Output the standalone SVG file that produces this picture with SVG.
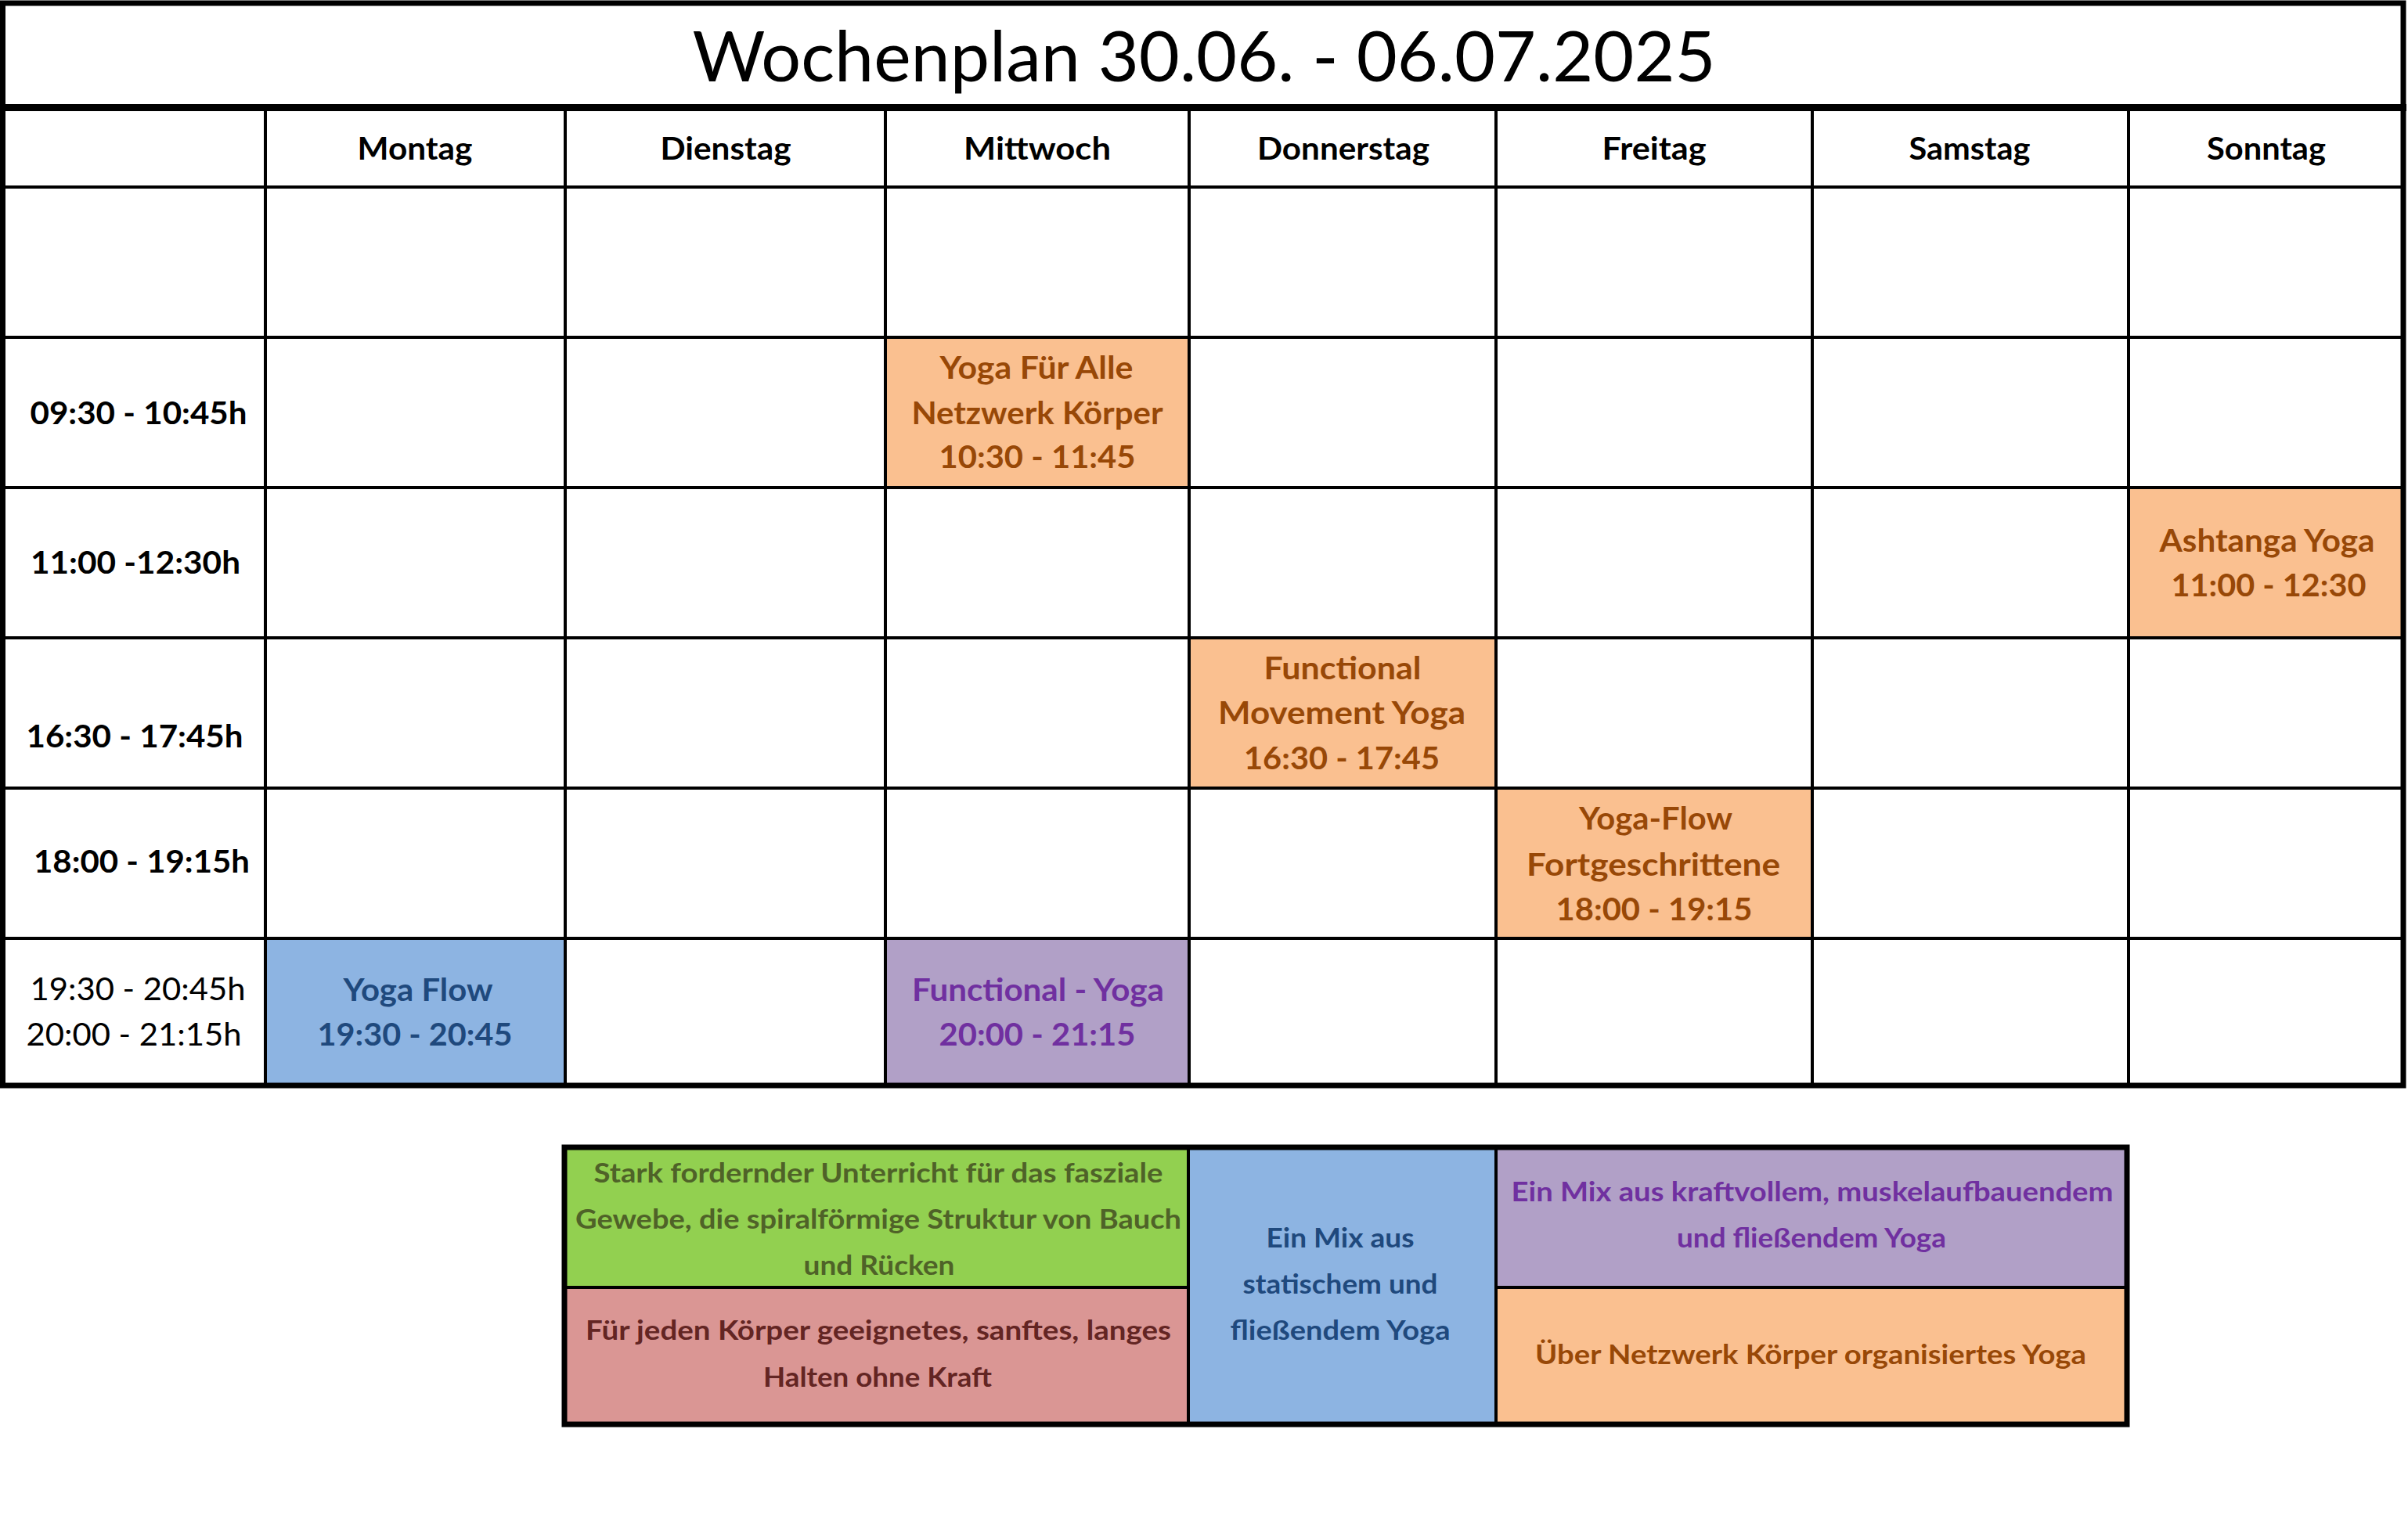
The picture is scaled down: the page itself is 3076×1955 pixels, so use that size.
<svg xmlns="http://www.w3.org/2000/svg" width="3076" height="1955" viewBox="0 0 3076 1955">
<style>
text{font-family:Lato,"Liberation Sans",sans-serif;font-weight:700;font-size:41px;text-anchor:middle;fill:#000}
.ti{font-weight:400;font-size:89px}
.rg{font-weight:400}
.lg{font-size:34px}
.g{stroke:#000;stroke-width:4;fill:none}
.gt{stroke:#000;stroke-width:8;fill:none}
.fo{fill:#FAC090}.fb{fill:#8DB4E2}.fp{fill:#B1A0C7}.fg{fill:#92D050}.fr{fill:#DA9694}
.co{fill:#984807}.cb{fill:#1F497D}.cp{fill:#7030A0}.cg{fill:#4F6228}.cr{fill:#632523}
</style>
<rect x="0" y="0" width="3076" height="1955" fill="#fff"/>

<g id="title">
<text class="ti" x="1538" y="104" textLength="1307" lengthAdjust="spacingAndGlyphs">Wochenplan 30.06. - 06.07.2025</text>
</g>

<g id="events">
<g id="ev-mittwoch-0930">
<rect class="fo" x="1131" y="431" width="388" height="192"/>
<text class="co" x="1324" y="484" textLength="247" lengthAdjust="spacingAndGlyphs">Yoga Für Alle</text>
<text class="co" x="1325" y="542" textLength="321" lengthAdjust="spacingAndGlyphs">Netzwerk Körper</text>
<text class="co" x="1325" y="598" textLength="251" lengthAdjust="spacingAndGlyphs">10:30 - 11:45</text>
</g>
<g id="ev-sonntag-1100">
<rect class="fo" x="2719" y="623" width="351" height="192"/>
<text class="co" x="2896" y="705" textLength="275" lengthAdjust="spacingAndGlyphs">Ashtanga Yoga</text>
<text class="co" x="2898" y="762" textLength="249" lengthAdjust="spacingAndGlyphs">11:00 - 12:30</text>
</g>
<g id="ev-donnerstag-1630">
<rect class="fo" x="1519" y="815" width="392" height="192"/>
<text class="co" x="1715" y="868" textLength="201" lengthAdjust="spacingAndGlyphs">Functional</text>
<text class="co" x="1714" y="925" textLength="316" lengthAdjust="spacingAndGlyphs">Movement Yoga</text>
<text class="co" x="1714" y="983" textLength="250" lengthAdjust="spacingAndGlyphs">16:30 - 17:45</text>
</g>
<g id="ev-freitag-1800">
<rect class="fo" x="1911" y="1007" width="404" height="192"/>
<text class="co" x="2115" y="1060" textLength="196" lengthAdjust="spacingAndGlyphs">Yoga-Flow</text>
<text class="co" x="2112" y="1119" textLength="324" lengthAdjust="spacingAndGlyphs">Fortgeschrittene</text>
<text class="co" x="2113" y="1176" textLength="251" lengthAdjust="spacingAndGlyphs">18:00 - 19:15</text>
</g>
<g id="ev-montag-1930">
<rect class="fb" x="339" y="1199" width="383" height="188"/>
<text class="cb" x="534" y="1279" textLength="191" lengthAdjust="spacingAndGlyphs">Yoga Flow</text>
<text class="cb" x="530" y="1336" textLength="249" lengthAdjust="spacingAndGlyphs">19:30 - 20:45</text>
</g>
<g id="ev-mittwoch-2000">
<rect class="fp" x="1131" y="1199" width="388" height="188"/>
<text class="cp" x="1326" y="1279" textLength="322" lengthAdjust="spacingAndGlyphs">Functional - Yoga</text>
<text class="cp" x="1325" y="1336" textLength="251" lengthAdjust="spacingAndGlyphs">20:00 - 21:15</text>
</g>
</g>

<g id="grid">
<line class="g" x1="339" y1="137" x2="339" y2="1387"/>
<line class="g" x1="722" y1="137" x2="722" y2="1387"/>
<line class="g" x1="1131" y1="137" x2="1131" y2="1387"/>
<line class="g" x1="1519" y1="137" x2="1519" y2="1387"/>
<line class="g" x1="1911" y1="137" x2="1911" y2="1387"/>
<line class="g" x1="2315" y1="137" x2="2315" y2="1387"/>
<line class="g" x1="2719" y1="137" x2="2719" y2="1387"/>
<line class="g" x1="3" y1="239" x2="3070" y2="239"/>
<line class="g" x1="3" y1="431" x2="3070" y2="431"/>
<line class="g" x1="3" y1="623" x2="3070" y2="623"/>
<line class="g" x1="3" y1="815" x2="3070" y2="815"/>
<line class="g" x1="3" y1="1007" x2="3070" y2="1007"/>
<line class="g" x1="3" y1="1199" x2="3070" y2="1199"/>
<line class="gt" x1="0" y1="137.5" x2="3074" y2="137.5" style="stroke-width:9"/>
<rect class="gt" x="3.5" y="4" width="3066.5" height="1383" style="stroke-width:7"/>
</g>

<g id="header">
<text x="530" y="204" textLength="147" lengthAdjust="spacingAndGlyphs">Montag</text>
<text x="927" y="204" textLength="167" lengthAdjust="spacingAndGlyphs">Dienstag</text>
<text x="1325" y="204" textLength="188" lengthAdjust="spacingAndGlyphs">Mittwoch</text>
<text x="1716" y="204" textLength="220" lengthAdjust="spacingAndGlyphs">Donnerstag</text>
<text x="2113" y="204" textLength="133" lengthAdjust="spacingAndGlyphs">Freitag</text>
<text x="2516" y="204" textLength="155" lengthAdjust="spacingAndGlyphs">Samstag</text>
<text x="2895" y="204" textLength="152" lengthAdjust="spacingAndGlyphs">Sonntag</text>
</g>

<g id="times">
<text x="177" y="542" textLength="277" lengthAdjust="spacingAndGlyphs">09:30 - 10:45h</text>
<text x="173" y="733" textLength="268" lengthAdjust="spacingAndGlyphs">11:00 -12:30h</text>
<text x="172" y="955" textLength="277" lengthAdjust="spacingAndGlyphs">16:30 - 17:45h</text>
<text x="181" y="1115" textLength="276" lengthAdjust="spacingAndGlyphs">18:00 - 19:15h</text>
<text class="rg" x="176" y="1278" textLength="275" lengthAdjust="spacingAndGlyphs">19:30 - 20:45h</text>
<text class="rg" x="171" y="1336" textLength="275" lengthAdjust="spacingAndGlyphs">20:00 - 21:15h</text>
</g>

<g id="legend">
<g id="legend-green">
<rect class="fg" x="721" y="1466" width="797" height="179"/>
<text class="lg cg" x="1122" y="1511" textLength="727" lengthAdjust="spacingAndGlyphs">Stark fordernder Unterricht für das fasziale</text>
<text class="lg cg" x="1122" y="1570" textLength="774" lengthAdjust="spacingAndGlyphs">Gewebe, die spiralförmige Struktur von Bauch</text>
<text class="lg cg" x="1123" y="1629" textLength="193" lengthAdjust="spacingAndGlyphs">und Rücken</text>
</g>
<g id="legend-red">
<rect class="fr" x="721" y="1645" width="797" height="175"/>
<text class="lg cr" x="1122" y="1712" textLength="748" lengthAdjust="spacingAndGlyphs">Für jeden Körper geeignetes, sanftes, langes</text>
<text class="lg cr" x="1121" y="1772" textLength="292" lengthAdjust="spacingAndGlyphs">Halten ohne Kraft</text>
</g>
<g id="legend-blue">
<rect class="fb" x="1518" y="1466" width="393" height="354"/>
<text class="lg cb" x="1712" y="1594" textLength="189" lengthAdjust="spacingAndGlyphs">Ein Mix aus</text>
<text class="lg cb" x="1712" y="1653" textLength="249" lengthAdjust="spacingAndGlyphs">statischem und</text>
<text class="lg cb" x="1712" y="1712" textLength="281" lengthAdjust="spacingAndGlyphs">fließendem Yoga</text>
</g>
<g id="legend-purple">
<rect class="fp" x="1911" y="1466" width="806" height="179"/>
<text class="lg cp" x="2315" y="1535" textLength="769" lengthAdjust="spacingAndGlyphs">Ein Mix aus kraftvollem, muskelaufbauendem</text>
<text class="lg cp" x="2314" y="1594" textLength="344" lengthAdjust="spacingAndGlyphs">und fließendem Yoga</text>
</g>
<g id="legend-orange">
<rect class="fo" x="1911" y="1645" width="806" height="175"/>
<text class="lg co" x="2313" y="1743" textLength="704" lengthAdjust="spacingAndGlyphs">Über Netzwerk Körper organisiertes Yoga</text>
</g>
<g id="legend-lines">
<line class="g" x1="1518" y1="1466" x2="1518" y2="1820"/>
<line class="g" x1="1911" y1="1466" x2="1911" y2="1820"/>
<line class="g" x1="721" y1="1645" x2="1518" y2="1645"/>
<line class="g" x1="1911" y1="1645" x2="2717" y2="1645"/>
<rect class="gt" x="721" y="1466" width="1996" height="354" style="stroke-width:7"/>
</g>
</g>
</svg>
